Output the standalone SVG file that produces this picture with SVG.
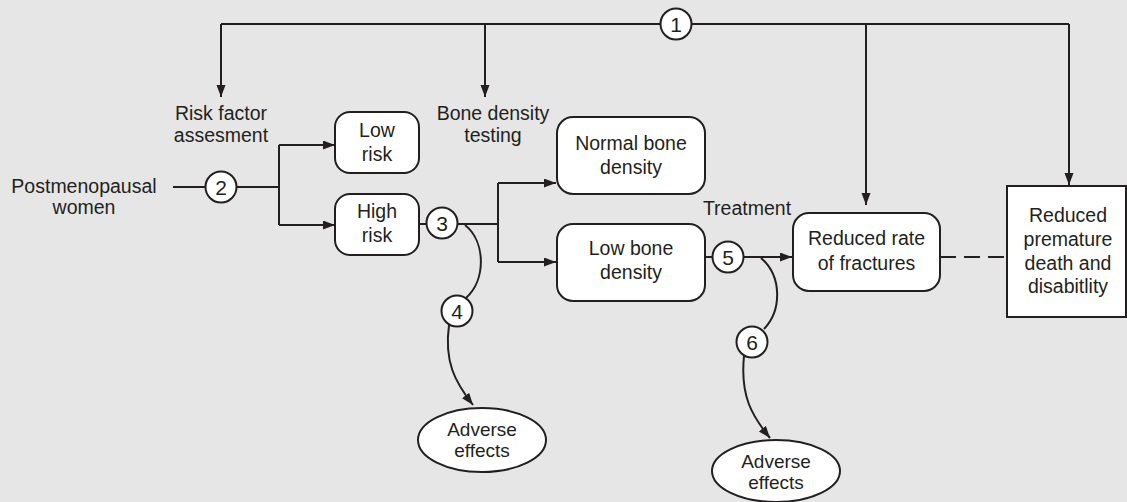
<svg xmlns="http://www.w3.org/2000/svg" width="1127" height="502" viewBox="0 0 1127 502">
<defs>
<marker id="arr" markerUnits="userSpaceOnUse" markerWidth="13" markerHeight="10" refX="12" refY="4.5" orient="auto">
<path d="M0,0 L12,4.5 L0,9 z" fill="#231f20"/>
</marker>
<style>
.ln{fill:none;stroke:#231f20;stroke-width:2}
.ar{fill:none;stroke:#231f20;stroke-width:2;marker-end:url(#arr)}
.box{fill:#fff;stroke:#231f20;stroke-width:2}
.t{font-family:"Liberation Sans",Arial,sans-serif;font-size:19.5px;fill:#231f20;text-anchor:middle}
.e{font-family:"Liberation Sans",Arial,sans-serif;font-size:19px;fill:#231f20;text-anchor:middle}
.n{font-family:"Liberation Sans",Arial,sans-serif;font-size:21px;fill:#231f20;text-anchor:middle}
</style>
</defs>
<rect width="1127" height="502" fill="#e6e6e6"/>
<g id="connectors">
<path class="ln" d="M221,24 H660 M692,24 H1069"/>
<path class="ar" d="M221,24 V97"/>
<path class="ar" d="M485,24 V97"/>
<path class="ar" d="M866,24 V205"/>
<path class="ar" d="M1069,24 V185"/>
<path class="ln" d="M173,187 H205.5 M236.5,187 H279 M279,145 V225"/>
<path class="ar" d="M279,145 H335"/>
<path class="ar" d="M279,225 H335"/>
<path class="ln" d="M419,224 H426.5 M457.5,224 H498 M498,183 V262"/>
<path class="ar" d="M498,183 H556"/>
<path class="ar" d="M498,262 H556"/>
<path class="ln" d="M465,225 C486,242 486,280 466,298"/>
<path class="ar" d="M449,325 C444,362 455,382 473,405"/>
<path class="ln" d="M705,257 H712.5"/>
<path class="ar" d="M743.5,257 H792"/>
<path class="ln" d="M761,258 C782,276 782,310 764,329"/>
<path class="ar" d="M744,356 C740,396 752,416 770,438"/>
<path class="ln" d="M940,257 H1007" stroke-dasharray="16 8"/>
</g>
<g id="c1"><circle class="box" cx="676" cy="24" r="15.5"/><text class="n" x="676" y="31.5">1</text></g>
<g id="c2"><circle class="box" cx="221" cy="187" r="15.5"/><text class="n" x="221" y="194.5">2</text></g>
<g id="c3"><circle class="box" cx="442" cy="223" r="15.5"/><text class="n" x="442" y="230.5">3</text></g>
<g id="c4"><circle class="box" cx="457" cy="311" r="15.5"/><text class="n" x="457" y="318.5">4</text></g>
<g id="c5"><circle class="box" cx="728" cy="257" r="15.5"/><text class="n" x="728" y="264.5">5</text></g>
<g id="c6"><circle class="box" cx="752" cy="342" r="15.5"/><text class="n" x="752" y="349.5">6</text></g>
<g id="risk-factor"><text class="t" x="221" y="120">Risk factor</text><text class="t" x="221" y="142">assesment</text></g>
<g id="bone-testing"><text class="t" x="493" y="120">Bone density</text><text class="t" x="493" y="142">testing</text></g>
<g id="women"><text class="t" x="84" y="193">Postmenopausal</text><text class="t" x="84" y="214">women</text></g>
<g id="low-risk"><rect class="box" x="335" y="112" width="84" height="61" rx="15"/><text class="t" x="377" y="137">Low</text><text class="t" x="377" y="161">risk</text></g>
<g id="high-risk"><rect class="box" x="335" y="194" width="84" height="61" rx="15"/><text class="t" x="377" y="218">High</text><text class="t" x="377" y="242">risk</text></g>
<g id="normal-bone"><rect class="box" x="557" y="117" width="148" height="77" rx="16"/><text class="t" x="631" y="150">Normal bone</text><text class="t" x="631" y="174">density</text></g>
<g id="treatment"><text class="t" x="747" y="215">Treatment</text></g>
<g id="low-bone"><rect class="box" x="557" y="224" width="148" height="77" rx="16"/><text class="t" x="631" y="255">Low bone</text><text class="t" x="631" y="279">density</text></g>
<g id="reduced-rate"><rect class="box" x="793" y="213" width="147" height="78" rx="16"/><text class="t" x="866.5" y="245">Reduced rate</text><text class="t" x="866.5" y="270">of fractures</text></g>
<g id="reduced-death"><rect class="box" x="1007" y="186" width="119" height="131"/><text class="t" x="1068" y="222">Reduced</text><text class="t" x="1068" y="246">premature</text><text class="t" x="1068" y="270">death and</text><text class="t" x="1068" y="293">disabitlity</text></g>
<g id="adverse1"><ellipse class="box" cx="482" cy="440" rx="64" ry="32"/><text class="e" x="482" y="436">Adverse</text><text class="e" x="482" y="457">effects</text></g>
<g id="adverse2"><ellipse class="box" cx="776" cy="471" rx="64" ry="31"/><text class="e" x="776" y="468">Adverse</text><text class="e" x="776" y="489">effects</text></g>
</svg>
